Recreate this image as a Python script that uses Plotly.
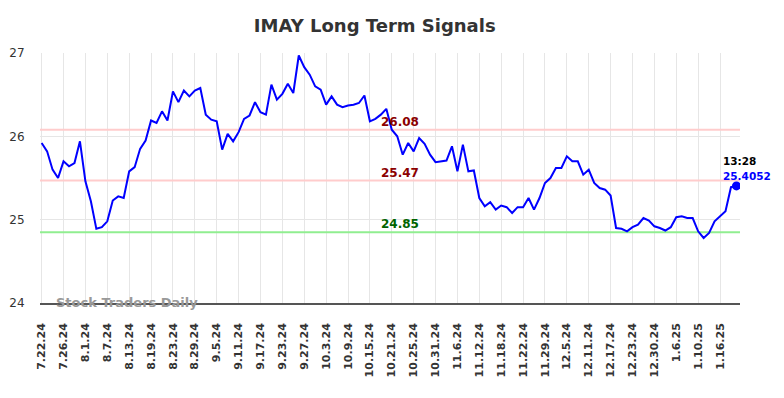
import plotly.graph_objects as go

title_text = "IMAY Long Term Signals"

prices = [
    25.92, 25.82, 25.60, 25.50, 25.70, 25.64, 25.68, 25.94, 25.46, 25.22,
    24.89, 24.91, 24.98, 25.23, 25.28, 25.26, 25.58, 25.63, 25.85, 25.95,
    26.19, 26.16, 26.30, 26.19, 26.54, 26.41, 26.55, 26.48, 26.55, 26.58,
    26.26, 26.20, 26.18, 25.84, 26.03, 25.94, 26.05, 26.21, 26.25, 26.41,
    26.29, 26.26, 26.62, 26.44, 26.51, 26.63, 26.52, 26.97, 26.83, 26.74,
    26.60, 26.56, 26.38, 26.48, 26.38, 26.35, 26.37, 26.38, 26.40, 26.49,
    26.18, 26.21, 26.26, 26.33, 26.08, 26.00, 25.78, 25.92, 25.82, 25.98,
    25.91, 25.78, 25.69, 25.70, 25.71, 25.88, 25.58, 25.90, 25.58, 25.59,
    25.26, 25.16, 25.21, 25.12, 25.17, 25.15, 25.08, 25.15, 25.15, 25.26,
    25.12, 25.26, 25.44, 25.50, 25.62, 25.62, 25.76, 25.70, 25.70, 25.54,
    25.60, 25.44, 25.38, 25.36, 25.29, 24.90, 24.89, 24.86, 24.91, 24.94,
    25.02, 24.99, 24.92, 24.90, 24.87, 24.91, 25.03, 25.04, 25.02, 25.02,
    24.86, 24.78, 24.84, 24.98, 25.04, 25.10, 25.39, 25.4052,
]
x_index = list(range(len(prices)))

tick_labels = [
    "7.22.24", "7.26.24", "8.1.24", "8.7.24", "8.13.24", "8.19.24", "8.23.24",
    "8.29.24", "9.5.24", "9.11.24", "9.17.24", "9.23.24", "9.27.24", "10.3.24",
    "10.9.24", "10.15.24", "10.21.24", "10.25.24", "10.31.24", "11.6.24",
    "11.12.24", "11.18.24", "11.22.24", "11.29.24", "12.5.24", "12.11.24",
    "12.17.24", "12.23.24", "12.30.24", "1.6.25", "1.10.25", "1.16.25",
]
tick_step = 4
tick_positions = [i * tick_step for i in range(len(tick_labels))]

resistance_levels = [26.08, 25.47]
support_levels = [24.85]
last_time = "13:28"
last_label = "25.4052"
y_ticks = [24, 25, 26, 27]

FONT = "DejaVu Sans"

fig = go.Figure()

x_min, x_max = -0.3, len(prices) - 1 + 0.65

for lv in resistance_levels:
    fig.add_trace(go.Scatter(x=[x_min, x_max], y=[lv, lv], mode="lines",
                             line=dict(color="#ffcccc", width=2),
                             hoverinfo="skip", showlegend=False))
for lv in support_levels:
    fig.add_trace(go.Scatter(x=[x_min, x_max], y=[lv, lv], mode="lines",
                             line=dict(color="#90ee90", width=2),
                             hoverinfo="skip", showlegend=False))

fig.add_trace(go.Scatter(x=x_index, y=prices, mode="lines",
                         line=dict(color="#0000ff", width=2),
                         showlegend=False))
fig.add_trace(go.Scatter(x=[x_index[-1]], y=[prices[-1]], mode="markers",
                         marker=dict(color="#0000ff", size=9),
                         showlegend=False))

label_x = 65.5
for lv in resistance_levels:
    fig.add_annotation(x=label_x, y=lv, text=f"<b>{lv:.2f}</b>", showarrow=False,
                       xanchor="center", yanchor="bottom", yshift=-1,
                       font=dict(family=FONT, size=12, color="#8b0000"))
for lv in support_levels:
    fig.add_annotation(x=label_x, y=lv, text=f"<b>{lv:.2f}</b>", showarrow=False,
                       xanchor="center", yanchor="bottom", yshift=-1,
                       font=dict(family=FONT, size=12, color="#006400"))

fig.add_annotation(x=x_index[-1], y=prices[-1], text=f"<b>{last_time}</b>",
                   showarrow=False, xanchor="left", yanchor="middle",
                   xshift=-15, yshift=25,
                   font=dict(family=FONT, size=10.5, color="#000000"))
fig.add_annotation(x=x_index[-1], y=prices[-1], text=f"<b>{last_label}</b>",
                   showarrow=False, xanchor="left", yanchor="middle",
                   xshift=-15, yshift=10,
                   font=dict(family=FONT, size=10.5, color="#0000ff"))

fig.add_annotation(xref="paper", yref="y", x=0.02, y=24, text="<b>Stock Traders Daily</b>",
                   showarrow=False, xanchor="left", yanchor="middle", yshift=1,
                   font=dict(family=FONT, size=13, color="#999999"))

fig.update_layout(
    width=784, height=398,
    margin=dict(l=40, r=44, t=53, b=95),
    paper_bgcolor="white", plot_bgcolor="white",
    title=dict(text=f"<b>{title_text}</b>", x=0.478, xanchor="center",
               y=0.935, yanchor="middle",
               font=dict(family=FONT, size=18, color="#333333")),
    font=dict(family=FONT, color="#333333"),
)
fig.update_xaxes(
    range=[x_min, x_max], tickmode="array", tickvals=tick_positions,
    ticktext=[f"<b>{t}</b>" for t in tick_labels], tickangle=-90,
    tickfont=dict(family=FONT, size=11, color="#333333"),
    showgrid=True, gridcolor="#e6e6e6", gridwidth=1,
    showline=True, linecolor="#555555", linewidth=1.5,
    ticks="outside", ticklen=14, tickcolor="rgba(0,0,0,0)",
    zeroline=False, automargin=False,
)
fig.update_yaxes(
    range=[24, 27], tickmode="array", tickvals=y_ticks,
    tickfont=dict(family=FONT, size=12, color="#333333"),
    showgrid=True, gridcolor="#e6e6e6", gridwidth=1,
    showline=False, zeroline=False,
    ticks="outside", ticklen=12, tickcolor="rgba(0,0,0,0)",
    automargin=False,
)

fig.write_html("out.html", config={"displayModeBar": False},
               post_script="document.body.style.margin='0';document.body.style.overflow='hidden';")
